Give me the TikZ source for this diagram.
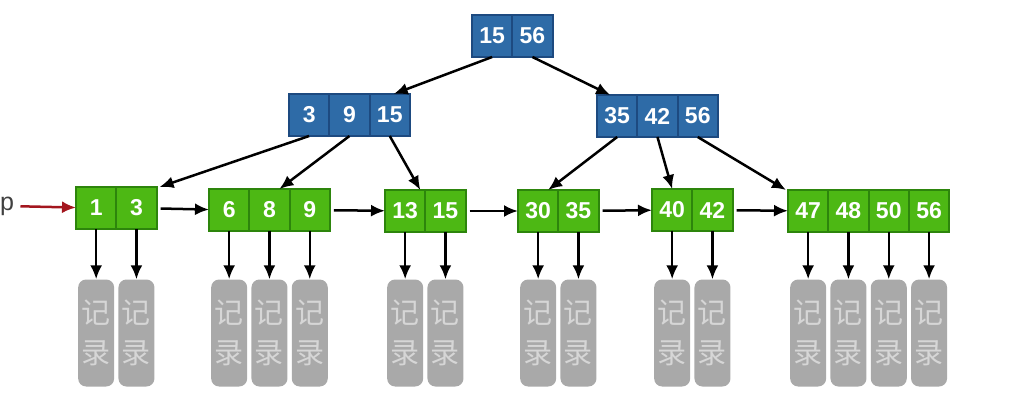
\documentclass[tikz,border=0pt]{standalone}
\usepackage{fontspec}
\setmainfont{Liberation Sans}
\newfontfamily\cjkfont{Noto Sans CJK SC}
\usepackage{tikz}
\usetikzlibrary{arrows.meta}
\usetikzlibrary{positioning}
\definecolor{innerblue}{HTML}{2E6BA7}
\definecolor{innerline}{HTML}{1D4A80}
\definecolor{leafgreen}{HTML}{4DB814}
\definecolor{leafline}{HTML}{2D850C}
\definecolor{recgray}{HTML}{A9A9A9}
\definecolor{rectext}{HTML}{D6D6D6}
\definecolor{pointer}{HTML}{A3161E}
\tikzstyle{inode} = [draw=innerline, fill=innerblue, line width=1.8pt, text=white,
    minimum height=42pt, minimum width=40.3pt, inner sep=0pt, outer sep=0pt,
    font=\fontsize{23}{23}\selectfont\bfseries]
\tikzstyle{lnode} = [inode, draw=leafline, fill=leafgreen]
\tikzstyle{rec} = [fill=recgray, rounded corners=8pt, minimum width=36pt,
    minimum height=107pt, inner sep=0pt, text=rectext, align=center,
    font=\cjkfont\fontsize{29}{40}\selectfont]
\tikzstyle{link} = [draw, ->, line width=2.5pt]
\begin{document}
\begin{tikzpicture}[x=1pt, y=-1pt, node distance=0pt, >={Latex[length=14pt,width=12pt]}]
    \useasboundingbox (0,0) rectangle (1024,403);
    % root and inner level
    \node [inode, anchor=north west] (r1) at (472,15) {15};
    \node [inode, right=of r1] (r2) {56};
    \node [inode, anchor=north west] (i1) at (289,94) {3};
    \node [inode, right=of i1] (i2) {9};
    \node [inode, right=of i2] (i3) {15};
    \node [inode, anchor=north west] (j1) at (597,95) {35};
    \node [inode, right=of j1] (j2) {42};
    \node [inode, right=of j2] (j3) {56};

    % leaf level
    \node [lnode, anchor=north west] (l1a) at (76,187) {1};
    \node [lnode, right=of l1a] (l1b) {3};
    \node [lnode, anchor=north west] (l2a) at (209,189) {6};
    \node [lnode, right=of l2a] (l2b) {8};
    \node [lnode, right=of l2b] (l2c) {9};
    \node [lnode, anchor=north west] (l3a) at (385,190) {13};
    \node [lnode, right=of l3a] (l3b) {15};
    \node [lnode, anchor=north west] (l4a) at (518,190) {30};
    \node [lnode, right=of l4a] (l4b) {35};
    \node [lnode, anchor=north west] (l5a) at (652,189) {40};
    \node [lnode, right=of l5a] (l5b) {42};
    \node [lnode, anchor=north west] (l6a) at (788,190) {47};
    \node [lnode, right=of l6a] (l6b) {48};
    \node [lnode, right=of l6b] (l6c) {50};
    \node [lnode, right=of l6c] (l6d) {56};
    \node [text=black!75, font=\fontsize{25}{25}\selectfont] (p) at (7,206) {p};

    % tree pointers
    \draw [link] (r1.south) -- ([xshift=4pt]i3.north);
    \draw [link] (r2.south) -- ([xshift=-7pt]j1.north);
    \draw [link] (i1.south) -- ([xshift=3pt]l1b.north east);
    \draw [link] (i2.south) -- ([xshift=10pt]l2b.north);
    \draw [link] (i3.south) -- ([xshift=-5pt]l3a.north east);
    \draw [link] (j1.south) -- ([xshift=10pt]l4a.north);
    \draw [link] (j2.south) -- (l5a.north);
    \draw [link] (j3.south) -- ([xshift=-2pt]l6a.north west);

    % leaf chain
    \draw [link, pointer, shorten <=3pt] (p) -- (l1a);
    \draw [link, shorten <=4pt] (l1b) -- (l2a);
    \draw [link, shorten <=4pt] (l2c) -- (l3a);
    \draw [link, shorten <=4pt] (l3b) -- (l4a);
    \draw [link, shorten <=4pt] (l4b) -- (l5a);
    \draw [link, shorten <=4pt] (l5b) -- (l6a);

    % records
    \foreach \c in {l1a,l1b,l2a,l2b,l2c,l3a,l3b,l4a,l4b,l5a,l5b,l6a,l6b,l6c,l6d} {
        \node [rec] (rec-\c) at (\c.south |- 0,333) {记\\录};
        \draw [link] (\c) -- (rec-\c);
    }
\end{tikzpicture}
\end{document}
